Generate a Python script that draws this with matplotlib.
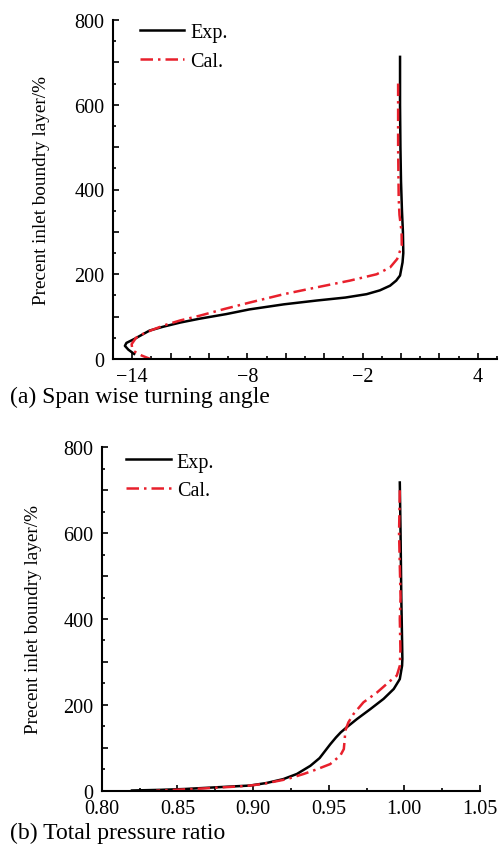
import matplotlib
matplotlib.use("Agg")
import matplotlib.pyplot as plt
from matplotlib.ticker import MultipleLocator, FuncFormatter

plt.rcParams.update({
    "font.family": ["Liberation Serif", "DejaVu Serif"],
    "font.size": 14,
    "axes.unicode_minus": True,
})

# (a) span wise turning angle (x = angle, y = % inlet BL)
exp_a_x = [-0.05, -0.05, -0.03, 0.0, 0.05, 0.1, 0.12, 0.08, -0.05, -0.25, -0.57, -1.1,
           -1.79, -2.9, -4.39, -6.1, -7.9, -9.1, -10.5, -11.5, -12.4, -13.1, -13.5,
           -13.9, -14.3, -14.38, -14.2, -13.9]
exp_a_y = [713, 600, 500, 420, 350, 300, 250, 228, 197, 185, 173, 162,
           153, 145, 138, 129, 117, 106, 95, 86, 76, 67, 57,
           47, 38, 31, 22, 12]
cal_a_x = [-0.15, -0.15, -0.12, -0.08, 0.03, 0.04, -0.2, -0.57, -1.27, -2.66, -4.4,
           -6.1, -7.9, -9.2, -10.5, -11.5, -12.3, -13.0, -13.5, -13.8, -14.03,
           -14.0, -13.9, -13.5, -13.05]
cal_a_y = [650, 500, 380, 340, 300, 267, 236, 216, 200, 185, 169,
           153, 133, 118, 102, 91, 80, 68, 58, 50, 35,
           25, 18, 8, 0]

# (b) total pressure ratio
exp_b_x = [0.997, 0.9975, 0.998, 0.9985, 0.9987, 0.9985, 0.997, 0.993, 0.9863,
           0.9775, 0.9687, 0.962, 0.958, 0.9548, 0.951, 0.9475, 0.9440, 0.9379,
           0.929, 0.920, 0.909, 0.898, 0.876, 0.855, 0.839, 0.82]
exp_b_y = [718, 600, 450, 350, 307, 291, 260, 237, 214,
           190, 167, 148, 136, 124, 108, 92, 76, 58,
           39, 27, 18, 12, 8, 4, 2, 0.5]
cal_b_x = [0.997, 0.9965, 0.9975, 0.997, 0.9974, 0.997, 0.995, 0.9907, 0.982,
           0.973, 0.9665, 0.963, 0.961, 0.9606, 0.960, 0.9577, 0.951, 0.9423,
           0.9335, 0.9225, 0.907, 0.898, 0.891, 0.8605, 0.836]
cal_b_y = [700, 600, 450, 400, 330, 291, 268, 256, 229,
           206, 179, 159, 140, 120, 97, 82, 62, 50,
           39, 27, 16, 12, 10, 4, 0]

RED = "#e8202c"
DASH = (5, 2, 1, 2)

fig = plt.figure(figsize=(5.01, 8.45), dpi=100)
W, H = 501, 845


def make_axes(l, t, r, b):
    return fig.add_axes([l / W, 1 - b / H, (r - l) / W, (b - t) / H])


def style(ax):
    for s in ["top", "right"]:
        ax.spines[s].set_visible(False)
    for s in ["left", "bottom"]:
        ax.spines[s].set_linewidth(1.5)
    ax.tick_params(which="both", direction="in", width=1.2, labelsize=14.5, pad=6)
    ax.tick_params(which="major", length=4.5)
    ax.tick_params(which="minor", length=2.5)
    ax.set_ylim(0, 800)
    ax.yaxis.set_major_locator(MultipleLocator(100))
    ax.yaxis.set_minor_locator(MultipleLocator(50))
    ax.yaxis.set_major_formatter(FuncFormatter(lambda v, p: f"{v:.0f}" if round(v) % 200 == 0 else ""))
    ax.set_ylabel("Precent inlet boundry layer/%", fontsize=13.8)


# ---- panel (a)
ax1 = make_axes(113, 21, 497, 360)
style(ax1)
ax1.plot(exp_a_x, exp_a_y, color="black", lw=1.8, label="Exp.")
ax1.plot(cal_a_x, cal_a_y, color=RED, lw=1.8, dashes=DASH, label="Cal.")
ax1.set_xlim(-15, 5)
ax1.xaxis.set_major_locator(MultipleLocator(2))
ax1.xaxis.set_minor_locator(MultipleLocator(1))
ax1.xaxis.set_major_formatter(FuncFormatter(
    lambda v, p: f"{v:.0f}".replace("-", "\u2212") if round(v) in (-14, -8, -2, 4) else ""))
ax1.yaxis.set_label_coords(-0.164, 0.5)
ax1.legend(loc="upper left", bbox_to_anchor=(0.07, 0.99), frameon=False, fontsize=14.5,
           handlelength=2.2, handletextpad=0.3, labelspacing=0.45, borderpad=0, borderaxespad=0)

# ---- panel (b)
ax2 = make_axes(101.7, 448.3, 480, 791.7)
style(ax2)
ax2.plot(exp_b_x, exp_b_y, color="black", lw=1.8, label="Exp.")
ax2.plot(cal_b_x, cal_b_y, color=RED, lw=1.8, dashes=DASH, label="Cal.")
ax2.set_xlim(0.80, 1.05)
ax2.xaxis.set_major_locator(MultipleLocator(0.05))
ax2.xaxis.set_minor_locator(MultipleLocator(0.025))
ax2.xaxis.set_major_formatter(FuncFormatter(lambda v, p: f"{v:.2f}"))
ax2.yaxis.set_label_coords(-0.158, 0.5)
ax2.legend(loc="upper left", bbox_to_anchor=(0.065, 0.985), frameon=False, fontsize=14.5,
           handlelength=2.2, handletextpad=0.3, labelspacing=0.45, borderpad=0, borderaxespad=0)

fig.text(10 / W, 1 - 397 / H, "(a) Span wise turning angle", fontsize=17, va="center", ha="left")
fig.text(10 / W, 1 - 833 / H, "(b) Total pressure ratio", fontsize=17, va="center", ha="left")

fig.savefig("out.png", dpi=100)
